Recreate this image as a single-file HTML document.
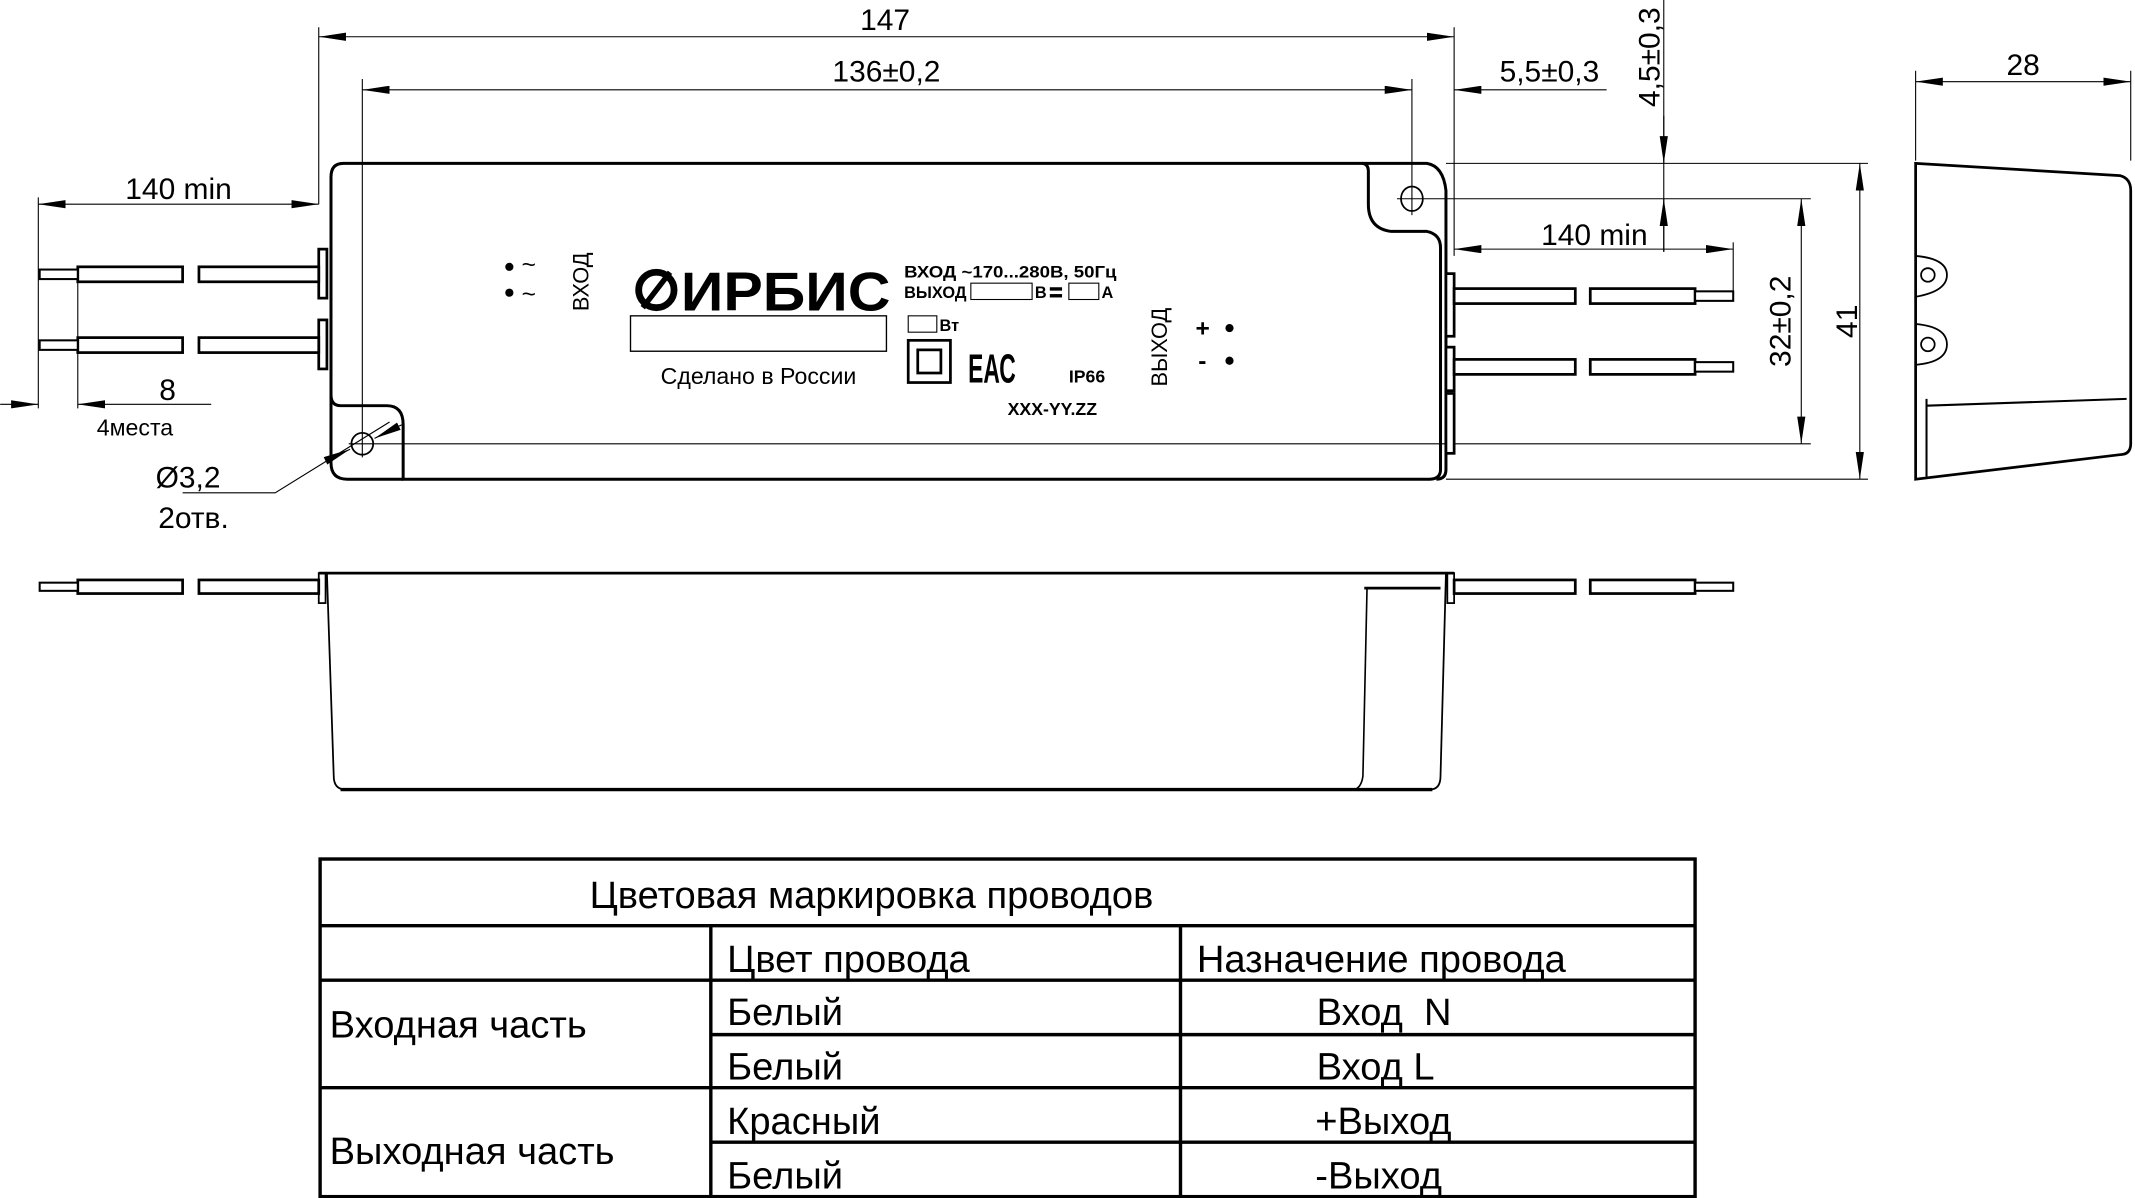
<!DOCTYPE html>
<html><head><meta charset="utf-8"><style>
html,body{margin:0;padding:0;background:#fff;}
svg{display:block;}
text{font-family:"Liberation Sans","Noto Sans CJK SC",sans-serif;fill:#000;}
</style></head><body>
<svg width="2135" height="1198" viewBox="0 0 1568 880" xmlns="http://www.w3.org/2000/svg">
<defs>
<marker id="a" viewBox="0 0 20 6" refX="20" refY="3" markerWidth="20" markerHeight="6" markerUnits="userSpaceOnUse" orient="auto-start-reverse"><path d="M0,0 L20,3 L0,6z" fill="#000"/></marker>
</defs>
<g fill="none" stroke="#000" stroke-width="0.8">
<line x1="234" y1="20" x2="234" y2="150"/>
<line x1="266" y1="58" x2="266" y2="336"/>
<line x1="1037" y1="58" x2="1037" y2="158"/>
<line x1="1068" y1="20" x2="1068" y2="188"/>
<line x1="1222" y1="0" x2="1222" y2="185"/>
<line x1="1062" y1="120" x2="1372" y2="120"/>
<line x1="1026" y1="146" x2="1330" y2="146"/>
<line x1="256" y1="326" x2="1330" y2="326"/>
<line x1="1062" y1="352" x2="1372" y2="352"/>
<line x1="1407" y1="52" x2="1407" y2="118"/>
<line x1="1565" y1="52" x2="1565" y2="118"/>
<line x1="28" y1="145" x2="28" y2="300"/>
<line x1="57" y1="205" x2="57" y2="300"/>
<line x1="1273" y1="178" x2="1273" y2="215"/>
<line x1="234" y1="27" x2="1068" y2="27" marker-start="url(#a)" marker-end="url(#a)"/>
<line x1="266" y1="66" x2="1037" y2="66" marker-start="url(#a)" marker-end="url(#a)"/>
<line x1="1180" y1="66" x2="1068" y2="66" marker-end="url(#a)"/>
<line x1="1222" y1="85" x2="1222" y2="120" marker-end="url(#a)"/>
<line x1="1222" y1="185" x2="1222" y2="146" marker-end="url(#a)"/>
<line x1="28" y1="150" x2="234" y2="150" marker-start="url(#a)" marker-end="url(#a)"/>
<line x1="1068" y1="183" x2="1273" y2="183" marker-start="url(#a)" marker-end="url(#a)"/>
<line x1="1323" y1="146" x2="1323" y2="326" marker-start="url(#a)" marker-end="url(#a)"/>
<line x1="1366" y1="120" x2="1366" y2="352" marker-start="url(#a)" marker-end="url(#a)"/>
<line x1="1407" y1="60" x2="1565" y2="60" marker-start="url(#a)" marker-end="url(#a)"/>
<line x1="0" y1="297" x2="28" y2="297" marker-end="url(#a)"/>
<line x1="155" y1="297" x2="57" y2="297" marker-end="url(#a)"/>
<line x1="240" y1="338" x2="257" y2="330" marker-end="url(#a)"/>
<line x1="295" y1="312" x2="275" y2="322" marker-end="url(#a)"/>
<polyline points="134,362 202,362 286,310"/>
</g>
<g fill="none" stroke="#000" stroke-width="2.2">
<path d="M252,120 L1000,120 Q1005,120 1005,126 L1005,150 Q1005,168 1022,170 L1048,170 Q1058,172 1058,182 L1058,345 Q1058,352 1050,352 L296,352 Q296,352 296,345 L296,312 Q296,298 284,298 L250,298 Q243,298 243,290 L243,130 Q243,120 252,120 Z"/>
<path d="M1000,120 L1048,120 Q1060,122 1062,140 L1062,345 Q1062,352 1055,352"/>
<path d="M243,290 L243,340 Q243,352 255,352 L296,352"/>
</g>
<g fill="none" stroke="#000" stroke-width="1.3">
<ellipse cx="1037" cy="146" rx="8" ry="9"/>
<ellipse cx="266" cy="326" rx="8" ry="8"/>
</g>
<g fill="#fff" stroke="#000" stroke-width="2">
<rect x="234" y="183" width="6" height="36"/>
<rect x="234" y="235" width="6" height="36"/>
<rect x="57" y="196" width="77" height="11"/>
<rect x="146" y="196" width="88" height="11"/>
<rect x="29" y="198" width="28" height="7" stroke-width="1.5"/>
<rect x="57" y="248" width="77" height="11"/>
<rect x="146" y="248" width="88" height="11"/>
<rect x="29" y="250" width="28" height="7" stroke-width="1.5"/>
<rect x="1062" y="201" width="6" height="46"/>
<rect x="1062" y="255" width="6" height="32"/>
<rect x="1062" y="289" width="6" height="44"/>
<rect x="1068" y="212" width="89" height="11"/>
<rect x="1168" y="212" width="77" height="11"/>
<rect x="1245" y="214" width="28" height="7" stroke-width="1.5"/>
<rect x="1068" y="264" width="89" height="11"/>
<rect x="1168" y="264" width="77" height="11"/>
<rect x="1245" y="266" width="28" height="7" stroke-width="1.5"/>
</g>
<g fill="none" stroke="#000" stroke-width="2">
<path d="M1407,120 L1557,129 Q1565,131 1565,140 L1565,326 Q1565,334 1557,334 L1407,352 Z"/>
<line x1="1415" y1="293" x2="1415" y2="350" stroke-width="1.5"/>
<line x1="1415" y1="298" x2="1562" y2="293" stroke-width="1.5"/>
<path d="M1407,188 Q1430,190 1430,202 Q1430,214 1407,218" stroke-width="1.3"/>
<circle cx="1416" cy="202" r="5" stroke-width="1.3"/>
<path d="M1407,238 Q1430,240 1430,253 Q1430,266 1407,268" stroke-width="1.3"/>
<circle cx="1416" cy="253" r="5" stroke-width="1.3"/>
</g>
<g fill="#fff" stroke="#000" stroke-width="2">
<rect x="1068" y="426" width="89" height="10"/>
<rect x="1168" y="426" width="77" height="10"/>
<rect x="1245" y="428" width="28" height="6" stroke-width="1.5"/>
<rect x="57" y="426" width="77" height="10"/>
<rect x="146" y="426" width="88" height="10"/>
<rect x="29" y="428" width="28" height="6" stroke-width="1.5"/>
</g>
<g fill="none" stroke="#000" stroke-width="2">
<line x1="234" y1="421" x2="1068" y2="421"/>
<rect x="234" y="421" width="5" height="22" stroke-width="1.3"/>
<rect x="1063" y="421" width="5" height="22" stroke-width="1.3"/>
<path d="M240,421 L245,570 Q245,580 254,580 L1050,580 Q1058,580 1058,570 L1062,421" stroke-width="1.3"/>
<line x1="250" y1="580" x2="1052" y2="580" stroke-width="2.5"/>
<line x1="1002" y1="432" x2="1058" y2="432"/>
<path d="M1004,433 L1001,570 Q1000,578 995,580" stroke-width="1.2"/>
</g>
<g font-size="22">
<text x="650" y="22" text-anchor="middle">147</text>
<text x="651" y="60" text-anchor="middle">136±0,2</text>
<text x="1138" y="60" text-anchor="middle">5,5±0,3</text>
<text x="1486" y="55" text-anchor="middle">28</text>
<text x="131" y="146" text-anchor="middle">140 min</text>
<text x="1171" y="180" text-anchor="middle">140 min</text>
<text x="123" y="294" text-anchor="middle">8</text>
<text x="99" y="320" text-anchor="middle" font-size="17">4места</text>
<text x="138" y="358" text-anchor="middle">Ø3,2</text>
<text x="142" y="388" text-anchor="middle">2отв.</text>
<text transform="translate(1219,42) rotate(-90)" text-anchor="middle">4,5±0,3</text>
<text transform="translate(1315,236) rotate(-90)" text-anchor="middle">32±0,2</text>
<text transform="translate(1364,236) rotate(-90)" text-anchor="middle">41</text>
</g>
<g font-size="16">
<circle cx="374" cy="196" r="3"/><text x="383" y="200" font-size="18">~</text>
<circle cx="374" cy="215" r="3"/><text x="383" y="222" font-size="18">~</text>
<text transform="translate(432,207) rotate(-90)" text-anchor="middle">ВХОД</text>
<text transform="translate(857,255) rotate(-90)" text-anchor="middle">ВЫХОД</text>
<text x="878" y="247" font-weight="bold" font-size="18">+</text>
<circle cx="903" cy="241" r="3"/>
<text x="880" y="271" font-weight="bold" font-size="18">-</text>
<circle cx="903" cy="265" r="3"/>
</g>
<g>
<circle cx="482" cy="213" r="13" fill="none" stroke="#000" stroke-width="5"/>
<line x1="472" y1="226" x2="492" y2="200" stroke="#000" stroke-width="4"/>
<text x="500" y="228" font-size="40" font-weight="bold" textLength="154" lengthAdjust="spacingAndGlyphs">ИРБИС</text>
<rect x="463" y="232" width="188" height="26" fill="none" stroke="#000" stroke-width="1"/>
<text x="557" y="282" font-size="17" text-anchor="middle">Сделано в России</text>
<text x="664" y="204" font-size="12" font-weight="bold" textLength="156" lengthAdjust="spacingAndGlyphs">ВХОД ~170...280В, 50Гц</text>
<text x="664" y="219" font-size="12" font-weight="bold">ВЫХОД</text>
<rect x="713" y="208" width="45" height="12" fill="none" stroke="#000" stroke-width="0.8"/>
<text x="760" y="219" font-size="12" font-weight="bold">В</text>
<rect x="771" y="211" width="9" height="2.5"/><rect x="771" y="216" width="9" height="2.5"/>
<rect x="785" y="208" width="22" height="12" fill="none" stroke="#000" stroke-width="0.8"/>
<text x="809" y="219" font-size="12" font-weight="bold">А</text>
<rect x="667" y="232" width="21" height="12" fill="none" stroke="#000" stroke-width="0.8"/>
<text x="690" y="243" font-size="12" font-weight="bold">Вт</text>
<rect x="667" y="250" width="31" height="31" fill="none" stroke="#000" stroke-width="2"/>
<rect x="674" y="257" width="17" height="17" fill="none" stroke="#000" stroke-width="2"/>
<text x="711" y="281" font-size="30" font-weight="bold" textLength="35" lengthAdjust="spacingAndGlyphs">ЕАС</text>
<text x="785" y="281" font-size="13" font-weight="bold">IP66</text>
<text x="740" y="305" font-size="13" font-weight="bold">XXX-YY.ZZ</text>
</g>
<g fill="none" stroke="#000" stroke-width="2.5">
<rect x="235" y="631" width="1010" height="248"/>
<line x1="235" y1="680" x2="1245" y2="680"/>
<line x1="235" y1="720" x2="1245" y2="720"/>
<line x1="522" y1="760" x2="1245" y2="760"/>
<line x1="235" y1="799" x2="1245" y2="799"/>
<line x1="522" y1="839" x2="1245" y2="839"/>
<line x1="522" y1="680" x2="522" y2="879"/>
<line x1="867" y1="680" x2="867" y2="879"/>
</g>
<g font-size="28">
<text x="640" y="667" text-anchor="middle">Цветовая маркировка проводов</text>
<text x="534" y="714">Цвет провода</text>
<text x="879" y="714">Назначение провода</text>
<text x="242" y="762">Входная часть</text>
<text x="534" y="753">Белый</text>
<text x="534" y="793">Белый</text>
<text x="534" y="833">Красный</text>
<text x="534" y="873">Белый</text>
<text x="967" y="753">Вход&#160; N</text>
<text x="967" y="793">Вход L</text>
<text x="966" y="833">+Выход</text>
<text x="966" y="873">-Выход</text>
<text x="242" y="855">Выходная часть</text>
</g>
</svg>
</body></html>
